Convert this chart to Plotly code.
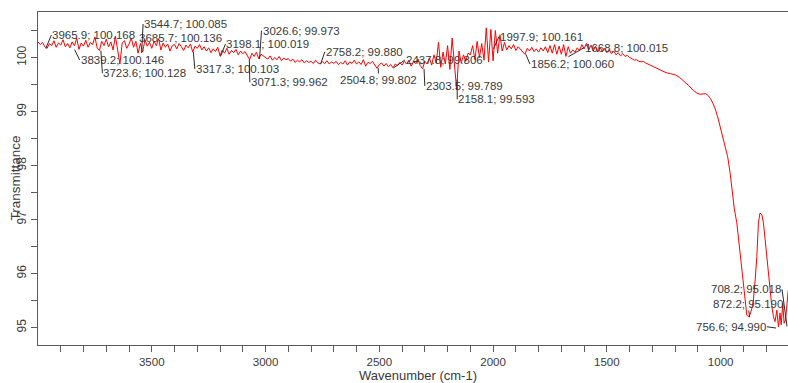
import plotly.graph_objects as go

# ---------------- data ----------------
# noisy part of the spectrum, sampled every 10 cm-1 from 4000 to 1310
wn_noisy = list(range(4000, 1300, -10))
t_noisy = [
    100.29, 100.24, 100.28, 100.20, 100.17, 100.26, 100.22, 100.31, 100.19, 100.27,
    100.23, 100.33, 100.20, 100.26, 100.18, 100.29, 100.22, 100.36, 100.15, 100.27,
    100.21, 100.32, 100.19, 100.28, 100.24, 100.38, 100.18, 100.13, 100.30, 100.22,
    100.34, 100.20, 100.29, 100.14, 100.40, 100.09, 99.88, 100.27, 100.31, 100.17,
    100.25, 100.36, 100.19, 100.30, 100.08, 100.26, 100.10, 100.33, 100.21, 100.28,
    100.17, 100.30, 100.22, 100.35, 100.14, 100.27, 100.19, 100.25, 100.12, 100.22,
    100.24, 100.16, 100.26, 100.20, 100.13, 100.23, 100.18, 100.25, 100.10, 100.21,
    100.17, 100.24, 100.14, 100.20, 100.12, 100.18, 100.09, 100.16, 100.11, 100.19,
    100.03, 100.14, 100.08, 100.17, 100.06, 100.13, 100.09, 100.15, 100.05, 100.12,
    100.07, 100.11, 100.04, 99.96, 100.08, 100.02, 100.10, 99.98, 100.06, 100.03,
    100.01, 99.97, 100.03, 99.95, 100.00, 99.96, 100.02, 99.94, 99.99, 99.96,
    99.98, 99.93, 99.97, 99.91, 99.95, 99.92, 99.96, 99.90, 99.94, 99.91,
    99.93, 99.89, 99.95, 99.90, 99.88, 99.92, 99.89, 99.94, 99.88, 99.92,
    99.89, 99.93, 99.87, 99.91, 99.88, 99.94, 99.86, 99.92, 99.89, 99.95,
    99.88, 99.92, 99.87, 99.96, 99.84, 99.91, 99.89, 99.93, 99.86, 99.80,
    99.87, 99.90, 99.84, 99.89, 99.83, 99.87, 99.81, 99.88, 99.85, 99.91,
    99.86, 99.93, 99.88, 99.95, 99.84, 99.92, 99.89, 99.97, 99.85, 99.79,
    99.93, 99.88, 99.99, 99.86, 100.05, 99.90, 100.28, 99.82, 100.10, 99.88,
    100.22, 99.78, 100.36, 99.86, 99.40, 100.12, 99.90, 100.05, 99.93, 100.08,
    100.05, 100.22, 99.96, 100.30, 100.00, 100.26, 99.95, 100.55, 99.92, 100.52,
    99.94, 100.50, 100.08, 100.42, 100.12, 100.28, 100.14, 100.22, 100.16, 100.24,
    100.13, 100.20, 100.15, 100.10, 100.06, 100.17, 100.12, 100.19, 100.11, 100.16,
    100.10, 100.18, 100.12, 100.20, 100.09, 100.22, 100.08, 100.24, 100.06, 100.21,
    100.06, 100.24, 100.02, 100.20, 100.08, 100.14, 100.10, 100.18, 100.13, 100.24,
    100.16, 100.26, 100.14, 100.23, 100.12, 100.21, 100.10, 100.19, 100.11, 100.17,
    100.09, 100.15, 100.07, 100.12, 100.05, 100.09, 100.03, 100.07, 100.02, 100.04,
    100.00, 99.98, 99.95, 99.96, 99.93, 99.92, 99.93, 99.90, 99.88, 99.86,
]

# smoother low-wavenumber part
wn_tail = [1300, 1280, 1260, 1240, 1220, 1200, 1180, 1160, 1140, 1120, 1104, 1090,
           1077, 1065, 1056, 1045, 1035, 1024, 1013, 1002, 991, 980, 969, 958, 951,
           940, 929, 918, 907, 896, 885, 878, 870, 863, 856, 848, 841, 834, 827, 819,
           812, 805, 797, 790, 783, 776, 768, 761, 753, 746, 739, 734, 727, 721, 715,
           709, 703]
t_tail = [99.84, 99.80, 99.75, 99.72, 99.70, 99.68, 99.63, 99.56, 99.48, 99.39, 99.34, 99.32,
          99.33, 99.33, 99.30, 99.24, 99.16, 99.05, 98.90, 98.72, 98.53, 98.35, 98.16, 97.85, 97.55,
          97.20, 96.94, 96.50, 96.01, 95.60, 95.23, 95.20, 95.25, 95.35, 95.51, 95.90, 96.31, 96.94,
          97.12, 97.09, 96.94, 96.65, 96.31, 96.00, 95.69, 95.42, 95.20, 95.11, 95.32, 95.01, 95.27,
          95.05, 95.45, 95.08, 95.14, 95.51, 95.69]

# peak labels
peak_wn = [3965.9, 3839.2, 3723.6, 3685.7, 3544.7, 3317.3, 3198.1, 3071.3, 3026.6, 2758.2,
           2504.8, 2437.8, 2303.5, 2158.1, 1997.9, 1856.2, 1668.8, 872.2, 756.6, 708.2]
peak_t = [100.168, 100.146, 100.128, 100.136, 100.085, 100.103, 100.019, 99.962, 99.973, 99.880,
          99.802, 99.806, 99.789, 99.593, 100.161, 100.060, 100.015, 95.190, 94.990, 95.018]

x_tickvals = [3500, 3000, 2500, 2000, 1500, 1000]
x_minorvals = [3900, 3800, 3700, 3600, 3400, 3300, 3200, 3100, 2900, 2800, 2700, 2600,
               2400, 2300, 2200, 2100, 1900, 1800, 1700, 1600, 1400, 1300, 1200, 1100,
               900, 800]
y_tickvals = [95, 96, 97, 98, 99, 100]
y_minorvals = [95.5, 96.5, 97.5, 98.5, 99.5, 100.5]

# ---------------- label placement (pixel offsets, anchors, leader visible) ----------------
label_style = [
    (5.6, -13.4, "left", True), (5.1, 10.4, "left", True), (1.5, 22.7, "left", True),
    (28.2, -12.5, "left", False), (1.5, -28.9, "left", True), (1.5, 17.1, "left", True),
    (5.0, -12.5, "left", True), (0.5, 22.7, "left", True), (2.0, -28.3, "left", True),
    (4.3, -12.3, "left", True), (0.4, 11.8, "center", True), (11.4, -8.0, "left", True),
    (0.8, 17.1, "left", True), (0.1, 19.8, "left", True), (5.3, -12.1, "left", True),
    (4.1, 9.7, "left", True), (15.5, -9.0, "left", True), (-2.0, -13.2, "center", True),
    (-9.0, -1.3, "right", True), (-5.0, -37.2, "right", True),
]

wn = wn_noisy + wn_tail
tr = t_noisy + t_tail

fig = go.Figure()
fig.add_trace(go.Scatter(x=wn, y=tr, mode="lines",
                         line=dict(color="#ff0000", width=1), hoverinfo="skip"))

font_lbl = dict(family="Liberation Sans, Arial, sans-serif", size=11.5, color="#3a3a3a")
annots = []
for (w, t, (ax, ay, xa, lead)) in zip(peak_wn, peak_t, label_style):
    annots.append(dict(
        x=w, y=t, xref="x", yref="y", text=f"{w:.1f}; {t:.3f}",
        showarrow=True, arrowhead=0, arrowwidth=1,
        arrowcolor="#2a2a2a" if lead else "rgba(0,0,0,0)",
        ax=ax, ay=ay, xanchor=xa, yanchor="middle", standoff=0, startstandoff=0,
        borderpad=0, font=font_lbl,
    ))

title_font = dict(family="Liberation Sans, Arial, sans-serif", size=13, color="#3a3a3a")
annots.append(dict(text="Wavenumber (cm-1)", xref="paper", yref="paper", x=0.5065, y=0,
                   yshift=-30, xanchor="center", yanchor="middle", showarrow=False,
                   font=title_font))
annots.append(dict(text="Transmittance", xref="paper", yref="paper", x=0, y=0.5,
                   xshift=-23, xanchor="center", yanchor="middle", textangle=-90,
                   showarrow=False, font=dict(family="Liberation Sans, Arial, sans-serif",
                                              size=13.5, color="#3a3a3a")))

axis_col = "#5a5a5a"
tick_font = dict(family="Liberation Sans, Arial, sans-serif", size=11.5, color="#3a3a3a")

fig.update_layout(
    template="none",
    width=788, height=383,
    margin=dict(l=38, r=0, t=12, b=38, autoexpand=False),
    paper_bgcolor="white", plot_bgcolor="white",
    showlegend=False,
    annotations=annots,
    xaxis=dict(
        range=[4000, 704], showgrid=False, zeroline=False, automargin=False,
        showline=True, linecolor=axis_col, linewidth=1.3, mirror=True,
        tickmode="array", tickvals=x_tickvals, ticktext=[str(v) for v in x_tickvals],
        ticks="outside", ticklen=6, tickwidth=1, tickcolor=axis_col,
        tickfont=tick_font,
        minor=dict(tickmode="array", tickvals=x_minorvals, ticks="outside",
                   ticklen=6, tickwidth=1, tickcolor=axis_col, showgrid=False),
    ),
    yaxis=dict(
        range=[94.676, 100.843], showgrid=False, zeroline=False, automargin=False,
        showline=True, linecolor=axis_col, linewidth=1.3,
        tickmode="array", tickvals=y_tickvals, ticktext=[str(v) for v in y_tickvals],
        ticks="outside", ticklen=6, tickwidth=1, tickcolor=axis_col,
        tickangle=-90, tickfont=dict(family="Liberation Sans, Arial, sans-serif", size=12,
                                     color="#3a3a3a"),
        minor=dict(tickmode="array", tickvals=y_minorvals, ticks="outside",
                   ticklen=6, tickwidth=1, tickcolor=axis_col, showgrid=False),
    ),
)

fig.write_html(
    "out.html",
    config={"displayModeBar": False},
    post_script="document.body.style.margin='0px';document.body.style.overflow='hidden';",
)
